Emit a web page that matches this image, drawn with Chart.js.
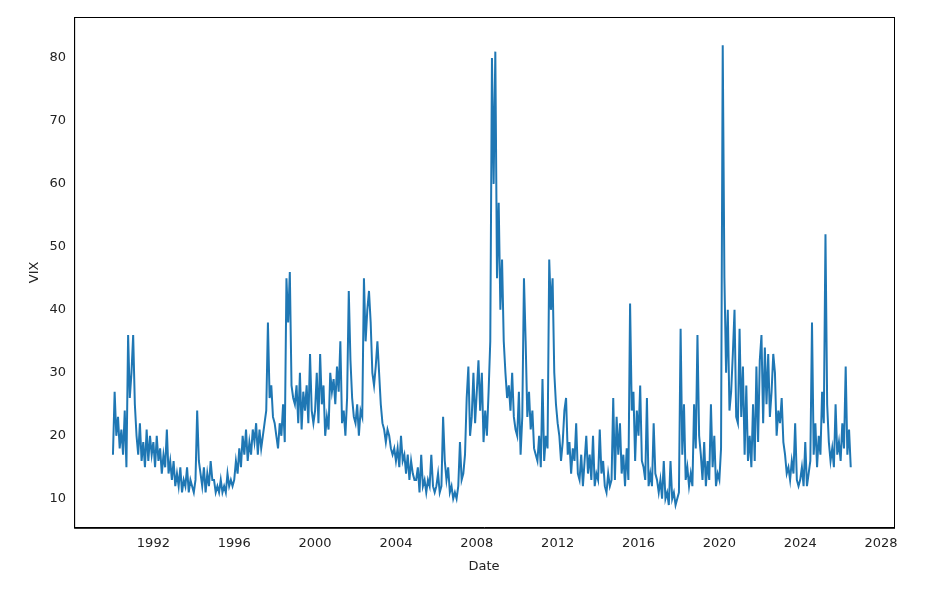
<!DOCTYPE html>
<html>
<head>
<meta charset="utf-8">
<script src="https://cdn.jsdelivr.net/npm/chart.js@4"></script>
<style>
  body { margin: 0; background: #fff; }
  #wrap { width: 931px; height: 589px; }
</style>
</head>
<body>
<div id="wrap"><canvas id="c"></canvas></div>
<script>
// VIX, roughly 12 readings per year (alternating swings)
const startYear = 1990;
const vixByYear = [
  [17, 27, 20, 23, 18, 21, 17, 24, 15, 36, 26, 30],      // 1990
  [36, 25, 20, 17, 22, 16, 19, 15, 21, 16, 20, 17],      // 1991
  [19, 15, 20, 16, 18, 14, 17, 15, 21, 14, 16, 13],      // 1992
  [16, 12, 14, 12, 15, 11, 13, 12, 15, 11, 13, 12],      // 1993
  [11, 13, 24, 16, 14, 12, 15, 11, 14, 12, 16, 13],      // 1994
  [13, 11, 12, 11, 13, 11, 12, 11, 14, 12, 13, 12],      // 1995
  [13, 16, 14, 18, 15, 20, 17, 21, 16, 19, 17, 21],      // 1996
  [19, 22, 17, 21, 18, 20, 22, 24, 38, 26, 28, 23],      // 1997
  [22, 20, 18, 22, 20, 25, 19, 45, 38, 46, 28, 26],      // 1998
  [25, 28, 22, 30, 21, 27, 24, 28, 22, 33, 24, 22],      // 1999
  [24, 30, 22, 33, 25, 28, 20, 23, 21, 30, 27, 29],      // 2000
  [25, 31, 27, 35, 22, 24, 20, 26, 43, 32, 26, 23],      // 2001
  [22, 25, 20, 24, 23, 45, 35, 40, 43, 38, 30, 28],      // 2002
  [31, 35, 30, 25, 22, 21, 19, 21, 20, 18, 17, 18],      // 2003
  [16, 18, 15, 20, 16, 17, 14, 17, 13, 16, 14, 13],      // 2004
  [13, 15, 11, 17, 12, 13, 11, 13, 12, 17, 12, 11],      // 2005
  [12, 14, 11, 12, 23, 16, 13, 15, 11, 12, 10, 11],      // 2006
  [10, 12, 19, 13, 14, 17, 26, 31, 20, 23, 30, 22],      // 2007
  [27, 32, 24, 30, 19, 24, 20, 27, 35, 80, 60, 81],      // 2008
  [45, 57, 40, 48, 35, 30, 26, 28, 24, 30, 23, 21],      // 2009
  [20, 27, 17, 23, 45, 35, 23, 27, 21, 24, 18, 17],      // 2010
  [16, 20, 15, 29, 16, 20, 18, 48, 40, 45, 30, 25],      // 2011
  [22, 20, 16, 19, 24, 26, 17, 19, 14, 18, 16, 22],      // 2012
  [14, 13, 17, 12, 16, 20, 14, 17, 13, 20, 12, 14],      // 2013
  [13, 21, 14, 16, 12, 11, 14, 12, 13, 26, 13, 23],      // 2014
  [17, 22, 14, 17, 12, 18, 13, 41, 24, 27, 16, 24],      // 2015
  [20, 28, 16, 15, 13, 26, 12, 14, 12, 22, 14, 13],      // 2016
  [11, 13, 10, 16, 10, 11, 9, 16, 10, 11, 9, 10],        // 2017
  [11, 37, 17, 25, 13, 15, 12, 14, 12, 25, 18, 36],      // 2018
  [20, 17, 13, 19, 12, 16, 13, 25, 15, 20, 12, 14],      // 2019
  [13, 18, 82, 45, 30, 40, 24, 27, 33, 40, 23, 22],      // 2020
  [37, 23, 31, 17, 28, 16, 20, 15, 25, 16, 31, 19],      // 2021
  [32, 36, 22, 34, 25, 33, 23, 27, 33, 30, 20, 24],      // 2022
  [22, 26, 19, 17, 14, 15, 13, 16, 14, 22, 13, 12],      // 2023
  [13, 15, 12, 19, 12, 14, 16, 38, 17, 22, 15, 20],      // 2024
  [17, 27, 22, 52, 25, 19, 16, 18, 15, 25, 17, 19],      // 2025
  [16, 22, 18, 31, 17, 21, 15]                           // 2026
];
const xTicks = [1992, 1996, 2000, 2004, 2008, 2012, 2016, 2020, 2024, 2028];
const yTicks = [10, 20, 30, 40, 50, 60, 70, 80];

const points = [];
vixByYear.forEach((vals, k) => {
  vals.forEach((v, i) => points.push({ x: startYear + k + i / 12, y: v }));
});

const frame = {
  id: 'frame',
  afterDraw(chart) {
    const a = chart.chartArea, ctx = chart.ctx;
    ctx.save();
    ctx.strokeStyle = '#000';
    ctx.lineWidth = 1;
    ctx.strokeRect(a.left + 0.5, a.top + 0.5, a.right - a.left, a.bottom - a.top);
    ctx.restore();
  }
};

const font = { family: 'DejaVu Sans', size: 13 };
new Chart(document.getElementById('c'), {
  type: 'line',
  data: { datasets: [{ data: points, borderColor: '#1f77b4', borderWidth: 2, pointRadius: 0, tension: 0 }] },
  options: {
    responsive: true, maintainAspectRatio: false, animation: false,
    layout: { padding: { top: 17, right: 37, bottom: 11, left: 23 } },
    plugins: { legend: { display: false }, tooltip: { enabled: false } },
    scales: {
      x: {
        type: 'linear', min: 1988.08, max: 2028.64,
        afterBuildTicks: s => { s.ticks = xTicks.map(v => ({ value: v })); },
        ticks: { color: '#222', font, maxRotation: 0, callback: v => String(v) },
        grid: { display: false, drawTicks: true, tickLength: 5, tickColor: '#000' },
        border: { color: '#000' },
        title: { display: true, text: 'Date', color: '#222', font }
      },
      y: {
        min: 5.39, max: 86.5,
        afterBuildTicks: s => { s.ticks = yTicks.map(v => ({ value: v })); },
        ticks: { color: '#222', font },
        grid: { display: false, drawTicks: true, tickLength: 5, tickColor: '#000' },
        border: { color: '#000' },
        title: { display: true, text: 'VIX', color: '#222', font }
      }
    }
  },
  plugins: [frame]
});
</script>
</body>
</html>
